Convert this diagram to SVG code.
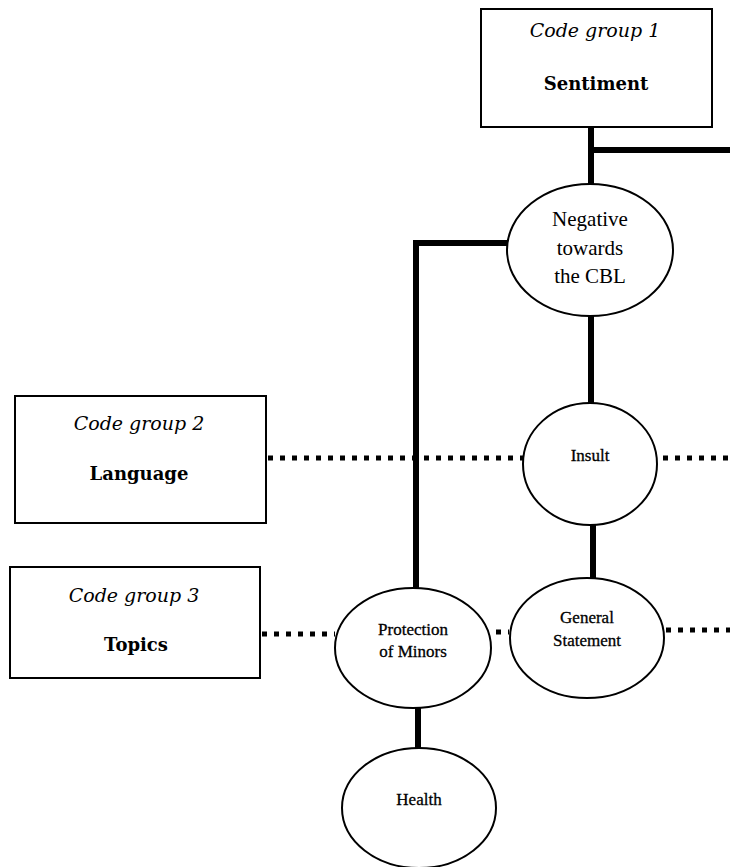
<svg xmlns="http://www.w3.org/2000/svg" width="730" height="867" viewBox="0 0 730 867">
<style>
.box{fill:#fff;stroke:#000;stroke-width:2}
.ell{fill:#fff;stroke:#000;stroke-width:2}
.solid{stroke:#000;stroke-width:6;fill:none}
.dot{stroke:#000;stroke-width:5;stroke-dasharray:5 7;fill:none}
.cg{font-family:"DejaVu Serif","Liberation Serif",serif;font-style:italic;font-size:19px;text-anchor:middle;fill:#000}
.cn{font-family:"DejaVu Serif","Liberation Serif",serif;font-weight:bold;font-size:18px;text-anchor:middle;fill:#000}
.big{font-family:"Liberation Serif",serif;font-size:21px;text-anchor:middle;fill:#000}
.sm{font-family:"Liberation Serif",serif;font-size:17px;text-anchor:middle;fill:#000;stroke:#000;stroke-width:0.3}
</style>
<rect width="730" height="867" fill="#fff"/>
<g id="connectors">
<line class="solid" x1="591" y1="127" x2="591" y2="186"/>
<line class="solid" x1="588" y1="150" x2="730" y2="150"/>
<line class="solid" x1="591" y1="315" x2="591" y2="404"/>
<polyline class="solid" points="509,243 416,243 416,589"/>
<line class="solid" x1="593" y1="524" x2="593" y2="579"/>
<line class="solid" x1="418" y1="707" x2="418" y2="749"/>
<line class="dot" x1="268" y1="458" x2="523" y2="458"/>
<line class="dot" x1="663" y1="458" x2="730" y2="458"/>
<line class="dot" x1="262" y1="634" x2="335" y2="634"/>
<line class="dot" x1="496" y1="632" x2="509" y2="632"/>
<line class="dot" x1="666" y1="630" x2="730" y2="630"/>
</g>
<g id="codegroup1">
<rect class="box" x="481" y="9" width="231" height="118"/>
<text class="cg" x="595" y="37">Code group 1</text>
<text class="cn" x="596" y="90">Sentiment</text>
</g>
<g id="codegroup2">
<rect class="box" x="15" y="396" width="251" height="127"/>
<text class="cg" x="139" y="430">Code group 2</text>
<text class="cn" x="139" y="480">Language</text>
</g>
<g id="codegroup3">
<rect class="box" x="10" y="567" width="250" height="111"/>
<text class="cg" x="134" y="602">Code group 3</text>
<text class="cn" x="136" y="651">Topics</text>
</g>
<g id="negative">
<ellipse class="ell" cx="590" cy="250" rx="83" ry="66"/>
<text class="big" x="590" y="226">Negative</text>
<text class="big" x="590" y="255">towards</text>
<text class="big" x="590" y="283">the CBL</text>
</g>
<g id="insult">
<ellipse class="ell" cx="590" cy="464" rx="67" ry="61"/>
<text class="sm" x="590" y="461">Insult</text>
</g>
<g id="protection">
<ellipse class="ell" cx="413" cy="648" rx="78" ry="60"/>
<text class="sm" x="413" y="635">Protection</text>
<text class="sm" x="413" y="657">of Minors</text>
</g>
<g id="general">
<ellipse class="ell" cx="587" cy="638" rx="77" ry="60"/>
<text class="sm" x="587" y="623">General</text>
<text class="sm" x="587" y="646">Statement</text>
</g>
<g id="health">
<ellipse class="ell" cx="419" cy="808" rx="77" ry="60"/>
<text class="sm" x="419" y="805">Health</text>
</g>
</svg>
